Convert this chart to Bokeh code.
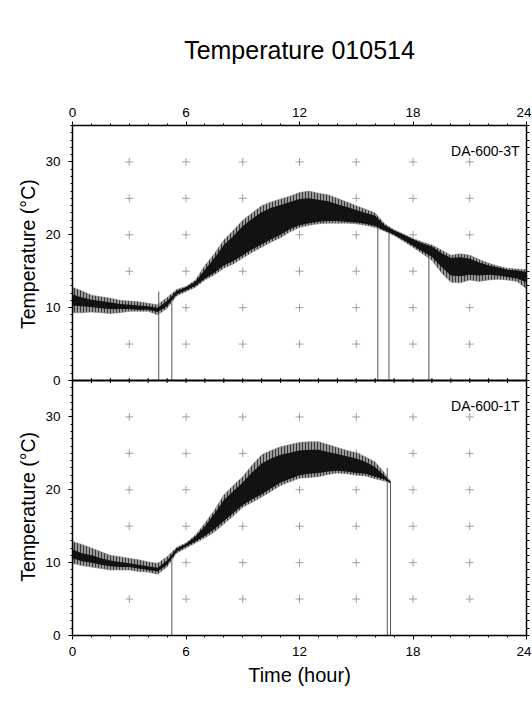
import math
from bokeh.plotting import figure
from bokeh.models import (Range1d, LinearAxis, SingleIntervalTicker, FixedTicker, Label,
                          ColumnDataSource, Span)
from bokeh.transform import dodge
from bokeh.embed import file_html
from bokeh.resources import INLINE

FONT = "Liberation Sans"

# ---------------- data ----------------
TITLE = "Temperature 010514"
X_LABEL = "Time (hour)"
Y_LABEL = "Temperature (°C)"
Y_TICKS = [0, 10, 20, 30]
Y_MAX = 35
X_MINOR = [i for i in range(25)]
GRID_X = [3, 6, 9, 12, 15, 18, 21]
GRID_Y = [5, 10, 15, 20, 25, 30]
NAME_TOP = "DA-600-3T"
NAME_BOT = "DA-600-1T"

# DA-600-3T (top panel): outer envelope (lo/hi) and dense core (clo/chi)
t_top = [0, 0.5, 1, 1.5, 2, 2.5, 3, 3.5, 4, 4.5, 5, 5.5, 6, 6.5, 7, 7.5, 8, 8.5,
         9, 9.5, 10, 10.5, 11, 11.5, 12, 12.5, 13, 13.5, 14, 14.5, 15, 15.5, 16,
         16.5, 17, 17.5, 18, 18.5, 19, 19.5, 20, 20.5, 21, 21.5, 22, 22.5, 23, 23.5, 24]
hi_top = [12.8, 12.3, 11.7, 11.5, 11.3, 11.0, 10.9, 10.8, 10.6, 10.4, 11.4, 12.5, 12.9,
          13.8, 15.8, 17.4, 19.3, 20.6, 22.0, 23.0, 24.0, 24.5, 24.9, 25.3, 25.8, 26.0,
          25.7, 25.5, 25.0, 24.5, 24.0, 23.5, 23.0, 21.5, 20.7, 20.1, 19.5, 19.0, 18.6,
          17.9, 17.2, 17.4, 17.2, 16.6, 16.1, 15.7, 15.4, 15.3, 15.2]
lo_top = [9.3, 9.3, 9.4, 9.3, 9.2, 9.3, 9.5, 9.5, 9.5, 9.0, 9.9, 11.6, 12.2,
          12.8, 13.8, 14.5, 15.4, 16.0, 16.8, 17.6, 18.3, 19.0, 19.6, 20.4, 21.0, 21.3,
          21.5, 21.6, 21.6, 21.6, 21.5, 21.3, 21.0, 20.5, 19.9, 19.1, 18.3, 17.4, 16.5,
          14.8, 13.5, 13.4, 13.8, 13.6, 13.8, 13.9, 13.8, 13.6, 12.6]
chi_top = [11.8, 11.4, 11.1, 10.9, 10.7, 10.5, 10.4, 10.3, 10.2, 10.0, 10.9, 12.3, 12.8,
           13.6, 15.2, 16.8, 18.6, 19.8, 21.2, 22.2, 23.1, 23.7, 24.1, 24.5, 24.9, 25.0,
           24.8, 24.6, 24.2, 23.8, 23.4, 23.0, 22.6, 21.3, 20.6, 20.0, 19.4, 18.8, 18.4,
           17.5, 16.8, 16.9, 16.7, 16.2, 15.8, 15.5, 15.2, 15.1, 14.9]
clo_top = [10.3, 10.2, 10.1, 9.9, 9.8, 9.8, 9.8, 9.7, 9.7, 9.4, 10.2, 11.8, 12.4,
           13.0, 14.0, 14.8, 15.8, 16.4, 17.2, 18.0, 18.7, 19.4, 20.0, 20.8, 21.3, 21.6,
           21.8, 21.9, 21.9, 21.8, 21.7, 21.5, 21.2, 20.6, 20.0, 19.3, 18.5, 17.7, 17.0,
           15.6, 14.4, 14.3, 14.5, 14.4, 14.5, 14.4, 14.2, 14.0, 13.5]
drop_t_top = [4.56, 5.25, 16.14, 16.73, 18.84]
drop_v_top = [12.2, 11.0, 22.0, 20.6, 18.0]

# DA-600-1T (bottom panel)
t_bot = [0, 0.5, 1, 1.5, 2, 2.5, 3, 3.5, 4, 4.5, 5, 5.5, 6, 6.5, 7, 7.5, 8, 8.5,
         9, 9.5, 10, 10.5, 11, 11.5, 12, 12.5, 13, 13.5, 14, 14.5, 15, 15.5, 16,
         16.5, 16.8]
hi_bot = [12.9, 12.5, 12.0, 11.5, 11.0, 10.8, 10.6, 10.4, 10.1, 9.9, 10.8, 12.1, 12.7,
          13.8, 15.4, 17.2, 19.3, 20.6, 21.8, 23.4, 24.8, 25.4, 25.9, 26.2, 26.5, 26.6,
          26.6, 26.2, 25.8, 25.4, 25.1, 24.5, 23.8, 22.3, 21.2]
lo_bot = [9.9, 9.6, 9.4, 9.2, 9.0, 9.0, 9.0, 8.8, 8.7, 8.4, 9.4, 11.3, 12.0,
          12.7, 13.4, 14.2, 15.3, 16.4, 17.6, 18.3, 19.0, 19.8, 20.6, 21.1, 21.6, 21.7,
          21.8, 22.1, 22.3, 22.2, 22.0, 21.9, 21.5, 21.2, 20.9]
chi_bot = [11.8, 11.3, 11.0, 10.6, 10.3, 10.1, 9.9, 9.7, 9.5, 9.3, 10.3, 11.9, 12.6,
           13.6, 15.0, 16.7, 18.6, 19.8, 21.0, 22.4, 23.6, 24.3, 24.8, 25.1, 25.4, 25.5,
           25.5, 25.2, 24.9, 24.6, 24.3, 23.8, 23.1, 21.9, 21.1]
clo_bot = [10.6, 10.2, 10.0, 9.7, 9.5, 9.4, 9.4, 9.2, 9.0, 8.8, 9.7, 11.5, 12.2,
           12.9, 13.7, 14.6, 15.7, 16.8, 17.9, 18.7, 19.4, 20.2, 21.0, 21.5, 22.0, 22.2,
           22.3, 22.5, 22.6, 22.5, 22.3, 22.2, 21.8, 21.4, 20.9]
drop_t_bot = [5.25, 16.64, 16.81]
drop_v_bot = [10.8, 23.0, 21.2]

# ------------- one frame, two stacked panels (bottom panel shifted by -Y_MAX) -------------
SHIFT = -Y_MAX

p = figure(frame_width=454, frame_height=510, x_range=Range1d(0, 24),
           y_range=Range1d(-Y_MAX, Y_MAX), x_axis_location=None, y_axis_location=None,
           toolbar_location=None, output_backend="svg",
           min_border_left=72, min_border_right=5, min_border_top=125, min_border_bottom=60)
p.xgrid.visible = False
p.ygrid.visible = False
p.outline_line_color = None
p.background_fill_color = "white"
p.border_fill_color = "white"


def style_axis(ax):
    ax.axis_line_color = "black"
    ax.axis_line_width = 1.5
    ax.major_tick_line_color = "black"
    ax.minor_tick_line_color = "black"
    ax.major_label_text_font = FONT
    ax.major_label_text_color = "black"
    ax.major_label_text_font_size = "13.5px"
    ax.axis_label_text_font = FONT
    ax.axis_label_text_font_style = "normal"
    ax.axis_label_text_color = "black"
    ax.axis_label_text_font_size = "20px"
    ax.major_tick_in = 0
    ax.minor_tick_in = 0


def draw_panel(src, drops, shift, name):
    def Y(col):
        return dodge(col, shift)
    gsrc = ColumnDataSource(dict(x=[x for x in GRID_X for _ in GRID_Y],
                                 y=[y for _ in GRID_X for y in GRID_Y]))
    p.scatter(x="x", y=Y("y"), source=gsrc, marker="cross", size=8,
              line_color="#8a8a8a", line_width=0.8)
    p.segment(x0="t", y0=Y("zero"), x1="t", y1=Y("v"), source=drops,
              line_color="#555555", line_width=1)
    p.varea(x="t", y1=Y("lo"), y2=Y("hi"), source=src, fill_color="#9a9a9a",
            hatch_pattern="|", hatch_color="#2a2a2a", hatch_scale=3, hatch_weight=0.9)
    p.varea(x="t", y1=Y("clo"), y2=Y("chi"), source=src, fill_color="#151515",
            hatch_pattern="|", hatch_color="#000000", hatch_scale=2, hatch_weight=0.6)
    p.line(x="t", y=Y("hi"), source=src, line_color="#8a8a8a", line_width=0.6)
    p.line(x="t", y=Y("lo"), source=src, line_color="#8a8a8a", line_width=0.6)
    p.add_layout(Label(x=24, y=Y_MAX + shift, x_offset=-7, y_offset=-17, text=name,
                       text_align="right", text_baseline="top",
                       text_font=FONT, text_font_size="14px", text_color="black"))


src_top = ColumnDataSource(dict(t=t_top, hi=hi_top, lo=lo_top, chi=chi_top, clo=clo_top))
drp_top = ColumnDataSource(dict(t=drop_t_top, v=drop_v_top, zero=[0] * len(drop_t_top)))
src_bot = ColumnDataSource(dict(t=t_bot, hi=hi_bot, lo=lo_bot, chi=chi_bot, clo=clo_bot))
drp_bot = ColumnDataSource(dict(t=drop_t_bot, v=drop_v_bot, zero=[0] * len(drop_t_bot)))

draw_panel(src_top, drp_top, 0, NAME_TOP)
draw_panel(src_bot, drp_bot, SHIFT, NAME_BOT)

# boundary between the panels, with its small hour ticks
p.add_layout(Span(location=0, dimension="width", line_color="black", line_width=2))
mid = ColumnDataSource(dict(x=X_MINOR, y=[0] * len(X_MINOR)))
p.scatter(x="x", y="y", source=mid, marker="dash", angle=math.pi / 2, size=5,
          line_color="black", line_width=1)

# left axis: both panels' ticks; the one axis label names both panels
y_major = Y_TICKS + [v + SHIFT for v in Y_TICKS]
y_minor = [v for v in range(-Y_MAX, Y_MAX + 1)]
la = LinearAxis(ticker=FixedTicker(ticks=y_major, minor_ticks=y_minor),
                axis_label=Y_LABEL + "\u00a0" * 19 + Y_LABEL)
style_axis(la)
la.axis_label_text_font_size = "19.5px"
la.major_label_overrides = {v + SHIFT: str(v) for v in Y_TICKS}
la.major_tick_out = 4
la.minor_tick_out = 2
la.major_label_standoff = 8
la.axis_label_standoff = 3
p.add_layout(la, "left")

ra = LinearAxis(ticker=FixedTicker(ticks=[], minor_ticks=y_minor))
style_axis(ra)
ra.minor_tick_out = 3
ra.major_tick_out = 0
ra.major_label_standoff = 0
p.add_layout(ra, "right")

# top axis carries the chart title as its label
ta = LinearAxis(ticker=SingleIntervalTicker(interval=6, num_minor_ticks=6), axis_label=TITLE)
style_axis(ta)
ta.axis_label_text_font_size = "25px"
ta.axis_label_standoff = 41
ta.major_tick_out = 4
ta.minor_tick_out = 2
ta.major_label_standoff = 5
p.add_layout(ta, "above")

ba = LinearAxis(ticker=SingleIntervalTicker(interval=6, num_minor_ticks=6), axis_label=X_LABEL)
style_axis(ba)
ba.major_tick_out = 4
ba.minor_tick_out = 2
ba.major_label_standoff = 7
ba.axis_label_standoff = 5
p.add_layout(ba, "below")

open("out.html", "w").write(file_html(p, INLINE))
